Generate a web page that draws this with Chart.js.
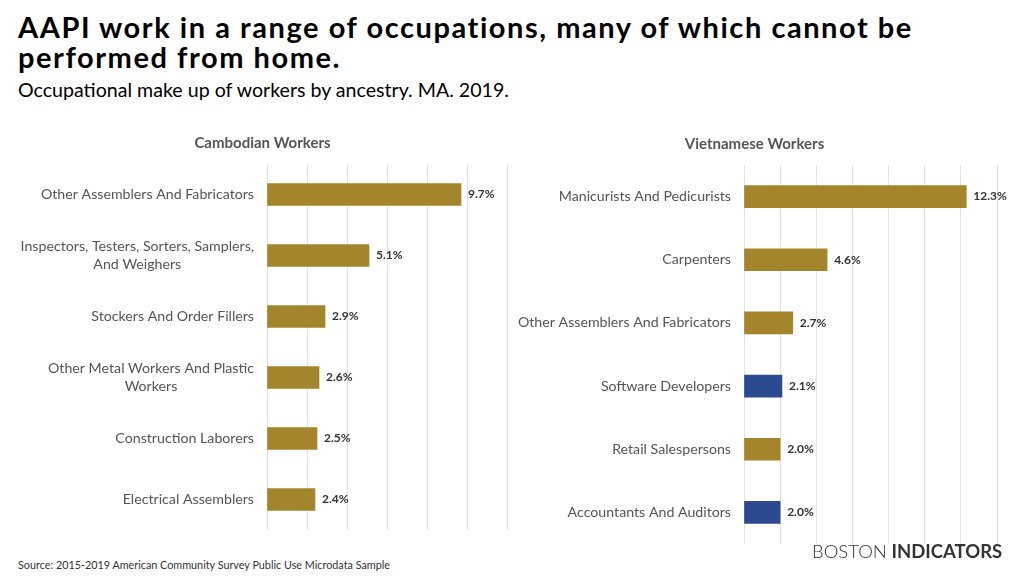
<!DOCTYPE html>
<html>
<head>
<meta charset="utf-8">
<script src="https://cdn.jsdelivr.net/npm/chart.js@4"></script>
<style>
  html, body { margin: 0; padding: 0; background: #fff; }
  body { width: 1024px; height: 576px; position: relative; overflow: hidden; font-family: Lato, "Open Sans", sans-serif; }
  .title { position: absolute; left: 18px; top: 12px; font-weight: 700; font-size: 29px; line-height: 30px; letter-spacing: 1.55px; color: #000; margin: 0; white-space: nowrap; }
  .subtitle { position: absolute; left: 18px; top: 79px; font-size: 19.6px; line-height: 22px; color: #000; white-space: nowrap; }
  .source { position: absolute; left: 18px; top: 558px; font-size: 10.8px; color: #333; white-space: nowrap; }
  .logo { position: absolute; left: 812px; top: 540px; font-size: 18.5px; color: #333; white-space: nowrap; }
  .logo span { font-weight: 300; }
  .logo b { font-weight: 700; }
  .box { position: absolute; }
</style>
</head>
<body>
<div class="title">AAPI work in a range of occupations, many of which cannot be<br>performed from home.</div>
<div class="subtitle">Occupational make up of workers by ancestry. MA. 2019.</div>
<div class="box" id="leftBox" style="left:18px; top:124px; width:496px; height:406px;"><canvas id="leftChart"></canvas></div>
<div class="box" id="rightBox" style="left:512px; top:124px; width:498px; height:420px;"><canvas id="rightChart"></canvas></div>
<div class="source">Source: 2015-2019 American Community Survey Public Use Microdata Sample</div>
<div class="logo"><span>BOSTON</span> <b>INDICATORS</b></div>
<script>
// ---- Data ----
const cambodianTitle = "Cambodian Workers";
const cambodianCategories = [
  ["Other Assemblers And Fabricators"],
  ["Inspectors, Testers, Sorters, Samplers,", "And Weighers"],
  ["Stockers And Order Fillers"],
  ["Other Metal Workers And Plastic", "Workers"],
  ["Construction Laborers"],
  ["Electrical Assemblers"]
];
const cambodianValues = [9.7, 5.1, 2.9, 2.6, 2.5, 2.4];

const vietnameseTitle = "Vietnamese Workers";
const vietnameseCategories = [
  ["Manicurists And Pedicurists"],
  ["Carpenters"],
  ["Other Assemblers And Fabricators"],
  ["Software Developers"],
  ["Retail Salespersons"],
  ["Accountants And Auditors"]
];
const vietnameseValues = [12.3, 4.6, 2.7, 2.1, 2.0, 2.0];
const vietnameseRemote = [false, false, false, true, false, true];

const GOLD = "#A5852B";
const BLUE = "#2C4A92";
const FONT = "Lato, 'Open Sans', sans-serif";

// Draws multi-line category labels (right-aligned block, centered lines) using the y scale
const catLabelPlugin = {
  id: "catLabels",
  afterDraw(chart, args, opts) {
    const ctx = chart.ctx;
    const y = chart.scales.y;
    const cats = opts.categories;
    ctx.save();
    ctx.font = "14.2px " + FONT;
    ctx.fillStyle = "#555";
    ctx.textBaseline = "middle";
    ctx.textAlign = "center";
    const right = chart.chartArea.left - 13;
    const lh = 18;
    cats.forEach((lines, i) => {
      const py = y.getPixelForTick(i);
      const w = Math.max(...lines.map(l => ctx.measureText(l).width));
      const cx = right - w / 2;
      const start = py - (lines.length - 1) * lh / 2;
      lines.forEach((l, k) => ctx.fillText(l, cx, start + k * lh));
    });
    ctx.restore();
  }
};

const valueLabelPlugin = {
  id: "valueLabels",
  afterDatasetsDraw(chart) {
    const ctx = chart.ctx;
    ctx.save();
    ctx.font = "bold 12px " + FONT;
    ctx.fillStyle = "#333";
    ctx.textBaseline = "middle";
    ctx.textAlign = "left";
    chart.data.datasets.forEach((ds, di) => {
      chart.getDatasetMeta(di).data.forEach((bar, i) => {
        ctx.fillText(ds.data[i].toFixed(1) + "%", bar.x + 7, bar.y);
      });
    });
    ctx.restore();
  }
};

function makeChart(id, title, cats, values, colors, xMax, yWidth, pad) {
  return new Chart(document.getElementById(id), {
    type: "bar",
    data: {
      labels: cats.map(c => c.join(" ")),
      datasets: [{ data: values, backgroundColor: colors, barThickness: 22, borderWidth: 0 }]
    },
    options: {
      indexAxis: "y",
      responsive: true,
      maintainAspectRatio: false,
      animation: false,
      layout: { padding: pad },
      plugins: {
        legend: { display: false },
        tooltip: { enabled: false },
        title: {
          display: true, text: title, color: "#555",
          font: { family: FONT, size: 15, weight: "bold" },
          padding: { top: 9, bottom: 12 }
        },
        catLabels: { categories: cats }
      },
      scales: {
        x: {
          min: 0, max: xMax,
          ticks: { display: false, stepSize: 2 },
          grid: { color: "#e2e2e2", drawTicks: false, lineWidth: 1 },
          border: { display: false }
        },
        y: {
          ticks: { display: false },
          grid: { display: false },
          border: { display: false },
          afterFit(scale) { scale.width = yWidth; }
        }
      }
    },
    plugins: [catLabelPlugin, valueLabelPlugin]
  });
}

makeChart("leftChart", cambodianTitle, cambodianCategories, cambodianValues,
  cambodianValues.map(() => GOLD), 12, 249, { top: 1, right: 7, bottom: 0, left: 0 });
makeChart("rightChart", vietnameseTitle, vietnameseCategories, vietnameseValues,
  vietnameseRemote.map(r => r ? BLUE : GOLD), 14, 232, { top: 2, right: 13, bottom: 0, left: 0 });
</script>
</body>
</html>
